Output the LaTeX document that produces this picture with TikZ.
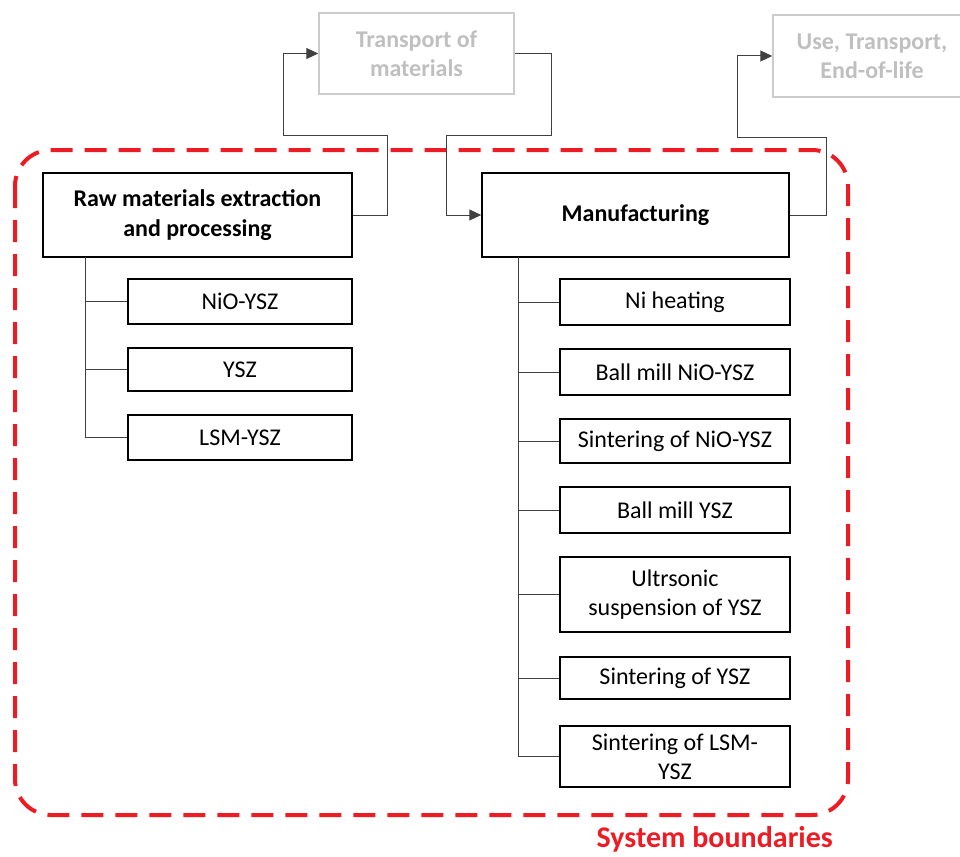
\documentclass[tikz,border=0pt]{standalone}
\usepackage{fontspec}
\setmainfont{Carlito}
\usetikzlibrary{arrows.meta}

\definecolor{bndred}{RGB}{237,28,36}
\definecolor{outgray}{RGB}{191,191,191}
\definecolor{linegray}{RGB}{64,64,64}

\tikzset{
  stagebox/.style={draw=black, line width=1.5, inner sep=0, align=center,
    font=\fontsize{24}{30}\selectfont\bfseries},
  subbox/.style={draw=black, line width=1.5, inner sep=0, align=center,
    minimum width=230, font=\fontsize{24}{29}\selectfont},
  outbox/.style={draw=outgray!80, line width=1.5, inner sep=0, align=center,
    text=outgray, font=\fontsize{24}{29}\selectfont\bfseries},
  flow/.style={draw=linegray, line width=1, -{Triangle[length=12,width=11]}},
  branch/.style={draw=linegray, line width=1},
  boundary/.style={draw=bndred, line width=4, dash pattern=on 22 off 12, rounded corners=36}
}

\begin{document}
\begin{tikzpicture}[x=1pt,y=-1pt]
\useasboundingbox (0,0) rectangle (960,856);

% system boundary
\draw[boundary] (15,150) rectangle (848,815);
\node[anchor=east, text=bndred, inner sep=0, font=\fontsize{30}{36}\selectfont\bfseries] (sysb) at (833,839) {System boundaries};

% outside stages
\node[outbox, minimum width=195, minimum height=81] (transp) at (416.5,53.5) {Transport of\\materials};
\node[outbox, minimum width=198, minimum height=82] (use) at (872,56) {Use, Transport,\\End-of-life};

% main stages
\node[stagebox, minimum width=309, minimum height=84] (raw) at (197.5,215) {Raw materials extraction\\and processing};
\node[stagebox, minimum width=307, minimum height=84] (manuf) at (635.5,215) {Manufacturing};

% raw materials
\node[subbox, minimum width=224, minimum height=45] (nio) at (240,301.5) {NiO-YSZ};
\node[subbox, minimum width=224, minimum height=43] (ysz) at (240,369.5) {YSZ};
\node[subbox, minimum width=224, minimum height=45] (lsm) at (240,437.5) {LSM-YSZ};

% manufacturing steps
\node[subbox, minimum height=46] (niheat) at (675,302) {Ni heating};
\node[subbox, minimum height=46] (millnio) at (675,372) {Ball mill NiO-YSZ};
\node[subbox, minimum height=44] (sintnio) at (675,441) {Sintering of NiO-YSZ};
\node[subbox, minimum height=46] (millysz) at (675,510) {Ball mill YSZ};
\node[subbox, minimum height=75] (ultra) at (675,594.5) {Ultrsonic\\suspension of YSZ};
\node[subbox, minimum height=42] (sintysz) at (675,678) {Sintering of YSZ};
\node[subbox, minimum height=61] (sintlsm) at (675,756.5) {Sintering of LSM-\\YSZ};

% trees
\coordinate (rawtrunk) at (85,257);
\coordinate (mantrunk) at (518,257);
\foreach \b in {nio,ysz,lsm}
  \draw[branch] (rawtrunk) |- (\b.west);
\foreach \b in {niheat,millnio,sintnio,millysz,ultra,sintysz,sintlsm}
  \draw[branch] (mantrunk) |- (\b.west);

% flows
\draw[flow] (raw.east) -- ++(35,0) |- (283,135) |- (transp.west);
\draw[flow] (transp.east) -- ++(37,0) |- (446,135) |- (manuf.west);
\draw[flow] (manuf.east) -- ++(37,0) |- (737,137) |- (use.west);

\end{tikzpicture}
\end{document}
